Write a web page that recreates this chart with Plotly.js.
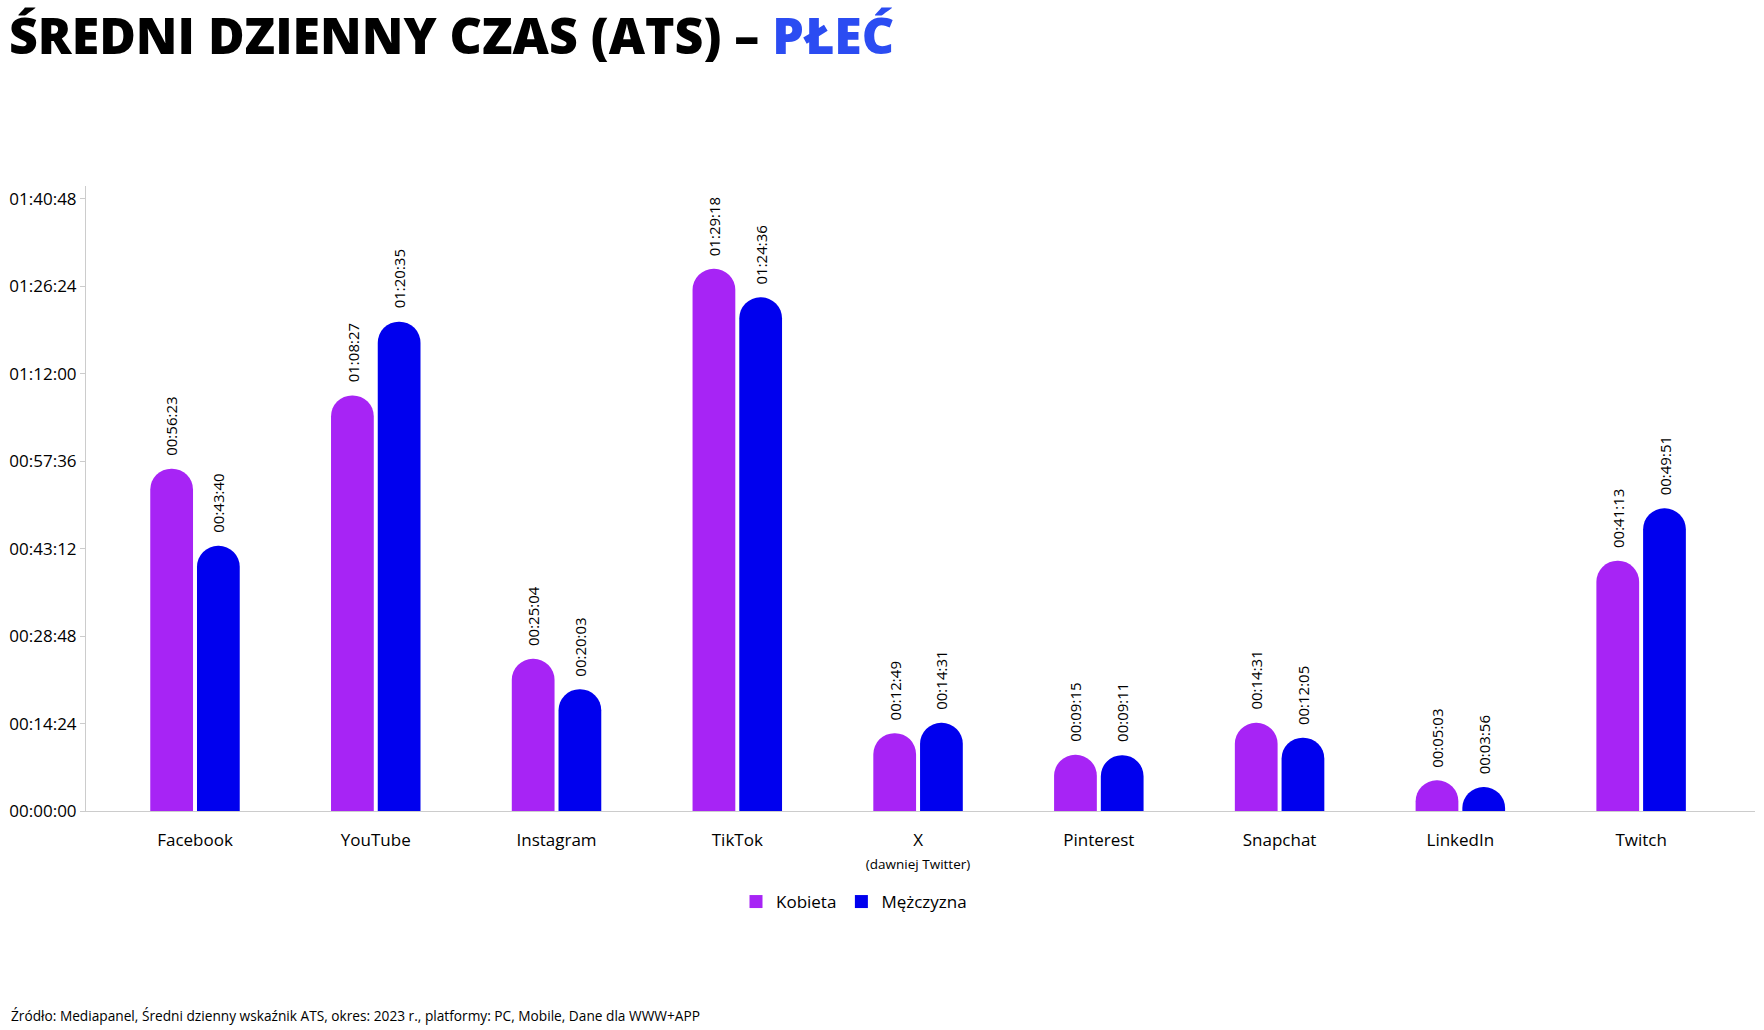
<!DOCTYPE html>
<html>
<head>
<meta charset="utf-8">
<script src="https://cdn.plot.ly/plotly-3.0.1.min.js"></script>
<style>
  html, body { margin: 0; padding: 0; background: #fff; }
  #chart { width: 1764px; height: 1030px; }
</style>
</head>
<body>
<div id="chart"></div>
<script>
// ---- data ----
const categories = ['Facebook', 'YouTube', 'Instagram', 'TikTok', 'X', 'Pinterest', 'Snapchat', 'LinkedIn', 'Twitch'];
const categoryLabels = ['Facebook', 'YouTube', 'Instagram', 'TikTok',
  'X<br><span style="font-size:13.5px">(dawniej Twitter)</span>',
  'Pinterest', 'Snapchat', 'LinkedIn', 'Twitch'];
const kobietaTimes = ['00:56:23', '01:08:27', '00:25:04', '01:29:18', '00:12:49', '00:09:15', '00:14:31', '00:05:03', '00:41:13'];
const mezczyznaTimes = ['00:43:40', '01:20:35', '00:20:03', '01:24:36', '00:14:31', '00:09:11', '00:12:05', '00:03:56', '00:49:51'];
const yTickLabels = ['00:00:00', '00:14:24', '00:28:48', '00:43:12', '00:57:36', '01:12:00', '01:26:24', '01:40:48'];
const seriesNames = ['Kobieta', 'Mężczyzna'];
const seriesColors = ['#A724F5', '#0000EE'];

// ---- helpers ----
function toSeconds(t) {
  const p = t.split(':').map(Number);
  return p[0] * 3600 + p[1] * 60 + p[2];
}
const kobietaSec = kobietaTimes.map(toSeconds);
const mezczyznaSec = mezczyznaTimes.map(toSeconds);
const yTickVals = yTickLabels.map(toSeconds);

const FONT = 'Open Sans, Noto Sans, Arial, sans-serif';
const bargap = 0.483;

const traces = [
  {
    type: 'bar', name: seriesNames[0], x: categories, y: kobietaSec,
    marker: { color: seriesColors[0], cornerradius: '50%' },
    hoverinfo: 'skip', showlegend: false
  },
  {
    type: 'bar', name: seriesNames[1], x: categories, y: mezczyznaSec,
    marker: { color: seriesColors[1], cornerradius: '50%' },
    hoverinfo: 'skip', showlegend: false
  },
  // legend entries with square symbols
  {
    type: 'scatter', mode: 'markers', name: seriesNames[0], x: [null], y: [null],
    marker: { color: seriesColors[0], symbol: 'square', size: 13 }, showlegend: true
  },
  {
    type: 'scatter', mode: 'markers', name: seriesNames[1], x: [null], y: [null],
    marker: { color: seriesColors[1], symbol: 'square', size: 13 }, showlegend: true
  }
];

const off = (1 - bargap) / 4;
const annotations = [];
[kobietaSec, mezczyznaSec].forEach((vals, s) => {
  const labels = s === 0 ? kobietaTimes : mezczyznaTimes;
  vals.forEach((v, i) => {
    annotations.push({
      xref: 'x', yref: 'y',
      x: i + (s === 0 ? -off : off), y: v,
      text: labels[i], textangle: -90,
      showarrow: false, xanchor: 'center', yanchor: 'bottom', yshift: 11,
      font: { family: FONT, size: 15, color: '#000' }
    });
  });
});

// footer (paper coords: plot area spans y 186..811 px, x 86..1755 px)
annotations.push({
  xref: 'paper', yref: 'paper', x: (9 - 86) / 1669, y: (811 - 1015) / 625,
  xanchor: 'left', yanchor: 'middle', showarrow: false,
  text: 'Źródło: Mediapanel, Średni dzienny wskaźnik ATS, okres: 2023 r., platformy: PC, Mobile, Dane dla WWW+APP',
  font: { family: FONT, size: 13.7, color: '#000' }
});

const layout = {
  width: 1764, height: 1030,
  paper_bgcolor: '#fff', plot_bgcolor: '#fff',
  margin: { l: 86, r: 9, t: 186, b: 219 },
  title: {
    text: 'ŚREDNI DZIENNY CZAS (ATS) – <span style="color:#2B4CF2">PŁEĆ</span>',
    xref: 'container', yref: 'container', x: 9 / 1764, xanchor: 'left',
    y: 1 - 19 / 1030, yanchor: 'top',
    font: { family: 'Open Sans, sans-serif', size: 50, color: '#000', weight: 800 }
  },
  barmode: 'group', bargap: bargap, bargroupgap: 0.085,
  showlegend: true,
  legend: {
    orientation: 'h', xref: 'paper', yref: 'paper',
    x: (736 - 86) / 1669, y: (811 - 902) / 625, xanchor: 'left', yanchor: 'middle',
    font: { family: FONT, size: 17, color: '#000' }, traceorder: 'normal',
    itemwidth: 30
  },
  xaxis: {
    type: 'category', tickvals: categories, ticktext: categoryLabels,
    range: [-0.603, 8.63], showline: true, linecolor: '#cccccc', linewidth: 1,
    ticks: '', ticklabelstandoff: 14, showgrid: false, zeroline: false, fixedrange: true,
    tickfont: { family: FONT, size: 17, color: '#000' }
  },
  yaxis: {
    range: [0, 6176], tickvals: yTickVals, ticktext: yTickLabels,
    showline: true, linecolor: '#cccccc', linewidth: 1,
    ticks: 'outside', ticklen: 5, tickcolor: '#cccccc',
    showgrid: false, zeroline: false, fixedrange: true,
    tickfont: { family: FONT, size: 17, color: '#000' }
  },
  annotations: annotations
};

Plotly.newPlot('chart', traces, layout, { displayModeBar: false, staticPlot: true });
</script>
</body>
</html>
